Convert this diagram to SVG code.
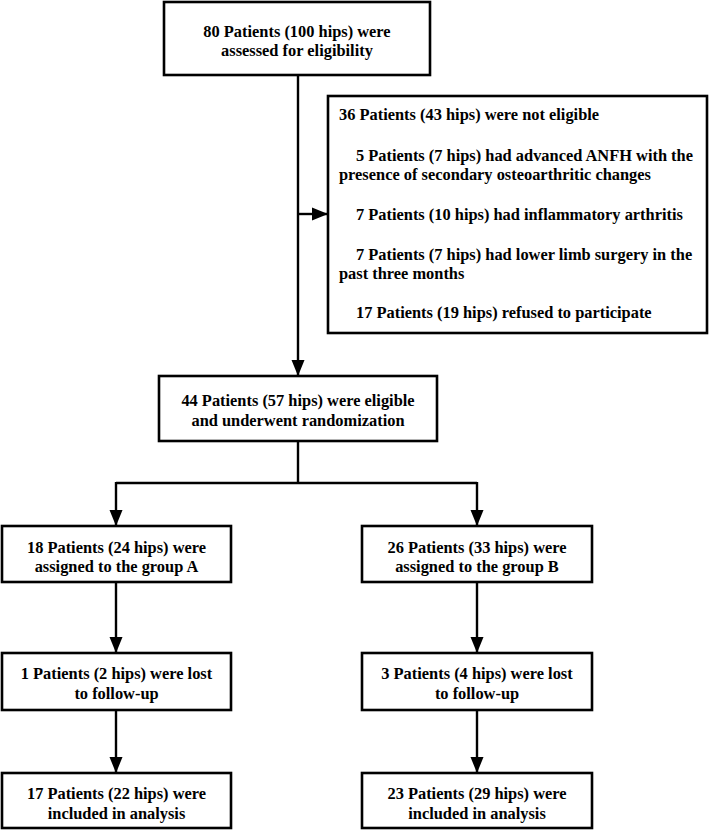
<svg xmlns="http://www.w3.org/2000/svg" width="709" height="831" viewBox="0 0 709 831">
<defs>
<marker id="ah" markerUnits="userSpaceOnUse" markerWidth="17" markerHeight="14" refX="16" refY="7" orient="auto">
<path d="M0,0.5 L16,7 L0,13.5 Z" fill="#000"/>
</marker>
<style>
.box{fill:#fff;stroke:#000;stroke-width:2.6}
.t{font-family:"Liberation Serif","Times New Roman",serif;font-weight:bold;font-size:16.4px;fill:#000}
.c{text-anchor:middle}
.ln{fill:none;stroke:#000;stroke-width:2.4}
</style>
</defs>
<rect width="709" height="831" fill="#fff"/>
<g id="connectors">
<line class="ln" x1="298" y1="75" x2="298" y2="376" marker-end="url(#ah)"/>
<line class="ln" x1="298" y1="214" x2="328" y2="214" marker-end="url(#ah)"/>
<polyline class="ln" points="298,441 298,483"/>
<polyline class="ln" points="116,483 477,483"/>
<line class="ln" x1="116" y1="482" x2="116" y2="526" marker-end="url(#ah)"/>
<line class="ln" x1="477" y1="482" x2="477" y2="526" marker-end="url(#ah)"/>
<line class="ln" x1="116" y1="582" x2="116" y2="653" marker-end="url(#ah)"/>
<line class="ln" x1="477" y1="582" x2="477" y2="653" marker-end="url(#ah)"/>
<line class="ln" x1="116" y1="710" x2="116" y2="773" marker-end="url(#ah)"/>
<line class="ln" x1="477" y1="710" x2="477" y2="773" marker-end="url(#ah)"/>
</g>
<g id="assessed">
<rect class="box" x="164" y="2" width="266" height="73"/>
<text class="t c" x="297" y="37">80 Patients (100 hips) were</text>
<text class="t c" x="297" y="56">assessed for eligibility</text>
</g>
<g id="excluded">
<rect class="box" x="328" y="96" width="379" height="237"/>
<text class="t" x="339" y="120">36 Patients (43 hips) were not eligible</text>
<text class="t" x="356" y="161">5 Patients (7 hips) had advanced ANFH with the</text>
<text class="t" x="339" y="180">presence of secondary osteoarthritic changes</text>
<text class="t" x="356" y="220">7 Patients (10 hips) had inflammatory arthritis</text>
<text class="t" x="356" y="260">7 Patients (7 hips) had lower limb surgery in the</text>
<text class="t" x="339" y="279">past three months</text>
<text class="t" x="356" y="318">17 Patients (19 hips) refused to participate</text>
</g>
<g id="randomized">
<rect class="box" x="159" y="376" width="278" height="65"/>
<text class="t c" x="298" y="406">44 Patients (57 hips) were eligible</text>
<text class="t c" x="298" y="426">and underwent randomization</text>
</g>
<g id="groupA">
<rect class="box" x="2" y="526" width="229" height="56"/>
<text class="t c" x="116.5" y="553">18 Patients (24 hips) were</text>
<text class="t c" x="116.5" y="572">assigned to the group A</text>
</g>
<g id="groupB">
<rect class="box" x="362" y="526" width="230" height="56"/>
<text class="t c" x="477" y="553">26 Patients (33 hips) were</text>
<text class="t c" x="477" y="572">assigned to the group B</text>
</g>
<g id="lostA">
<rect class="box" x="2" y="653" width="229" height="57"/>
<text class="t c" x="116.5" y="679">1 Patients (2 hips) were lost</text>
<text class="t c" x="116.5" y="699">to follow-up</text>
</g>
<g id="lostB">
<rect class="box" x="362" y="653" width="230" height="57"/>
<text class="t c" x="477" y="679">3 Patients (4 hips) were lost</text>
<text class="t c" x="477" y="699">to follow-up</text>
</g>
<g id="analysisA">
<rect class="box" x="2" y="773" width="229" height="55"/>
<text class="t c" x="116.5" y="799">17 Patients (22 hips) were</text>
<text class="t c" x="116.5" y="819">included in analysis</text>
</g>
<g id="analysisB">
<rect class="box" x="362" y="773" width="230" height="55"/>
<text class="t c" x="477" y="799">23 Patients (29 hips) were</text>
<text class="t c" x="477" y="819">included in analysis</text>
</g>
</svg>
